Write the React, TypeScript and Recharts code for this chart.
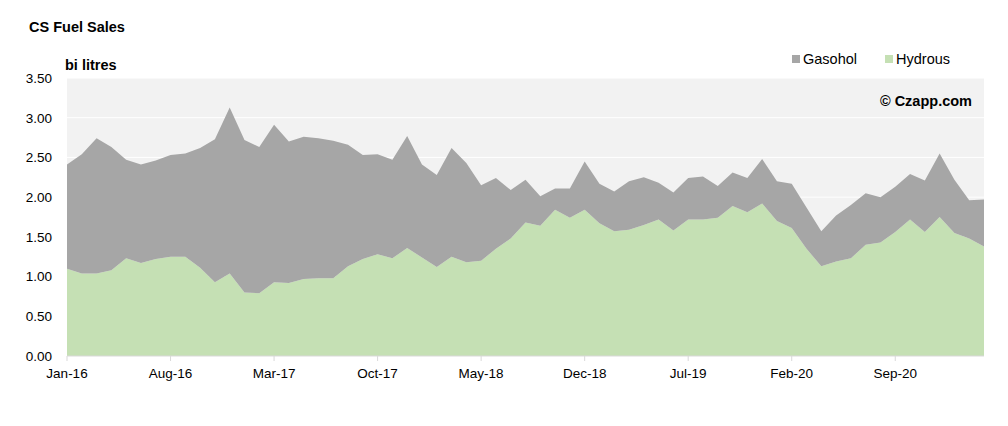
import React from "react";
import { AreaChart, Area, XAxis, YAxis, CartesianGrid } from "recharts";

const months: string[] = [
  "Jan-16","Feb-16","Mar-16","Apr-16","May-16","Jun-16","Jul-16","Aug-16","Sep-16","Oct-16","Nov-16","Dec-16",
  "Jan-17","Feb-17","Mar-17","Apr-17","May-17","Jun-17","Jul-17","Aug-17","Sep-17","Oct-17","Nov-17","Dec-17",
  "Jan-18","Feb-18","Mar-18","Apr-18","May-18","Jun-18","Jul-18","Aug-18","Sep-18","Oct-18","Nov-18","Dec-18",
  "Jan-19","Feb-19","Mar-19","Apr-19","May-19","Jun-19","Jul-19","Aug-19","Sep-19","Oct-19","Nov-19","Dec-19",
  "Jan-20","Feb-20","Mar-20","Apr-20","May-20","Jun-20","Jul-20","Aug-20","Sep-20","Oct-20","Nov-20","Dec-20",
  "Jan-21","Feb-21","Mar-21",
];

const hydrous: number[] = [
  1.10, 1.04, 1.04, 1.08, 1.23, 1.17, 1.22, 1.25, 1.25, 1.11, 0.93, 1.04,
  0.80, 0.79, 0.93, 0.92, 0.97, 0.98, 0.98, 1.13, 1.22, 1.28, 1.23, 1.36,
  1.24, 1.12, 1.25, 1.18, 1.20, 1.35, 1.48, 1.68, 1.64, 1.84, 1.74, 1.84,
  1.67, 1.57, 1.59, 1.65, 1.72, 1.58, 1.72, 1.72, 1.74, 1.89, 1.81, 1.92,
  1.70, 1.61, 1.35, 1.13, 1.19, 1.23, 1.40, 1.43, 1.56, 1.72, 1.56, 1.75,
  1.55, 1.48, 1.38,
];

const gasohol: number[] = [
  1.31, 1.50, 1.70, 1.55, 1.24, 1.24, 1.24, 1.28, 1.30, 1.51, 1.80, 2.09,
  1.92, 1.84, 1.98, 1.78, 1.79, 1.76, 1.73, 1.53, 1.31, 1.26, 1.24, 1.41,
  1.17, 1.16, 1.37, 1.25, 0.95, 0.89, 0.61, 0.54, 0.37, 0.27, 0.37, 0.61,
  0.50, 0.50, 0.61, 0.60, 0.46, 0.48, 0.52, 0.54, 0.40, 0.42, 0.43, 0.56,
  0.50, 0.56, 0.52, 0.44, 0.58, 0.67, 0.65, 0.57, 0.57, 0.57, 0.65, 0.80,
  0.67, 0.48, 0.59,
];

const xTicks: string[] = ["Jan-16", "Aug-16", "Mar-17", "Oct-17", "May-18", "Dec-18", "Jul-19", "Feb-20", "Sep-20"];
const yTicks: number[] = [0, 0.5, 1, 1.5, 2, 2.5, 3, 3.5];

const data = months.map((m, i) => ({ m, Hydrous: hydrous[i], Gasohol: gasohol[i] }));

const FONT = "'Liberation Sans', Arial, sans-serif";

export default function App() {
  return (
    <div style={{ position: "absolute", left: 0, top: 0, width: 1008, height: 426, background: "#fff", fontFamily: FONT }}>
      <AreaChart width={1008} height={426} data={data} margin={{ top: 78, right: 24, bottom: 40, left: 7 }}>
        <CartesianGrid vertical={false} stroke="#ffffff" fill="#f2f2f2" fillOpacity={1} />
        <XAxis
          dataKey="m"
          ticks={xTicks}
          interval={0}
          height={30}
          tickSize={5}
          tickMargin={7}
          axisLine={{ stroke: "#d9d9d9" }}
          tickLine={{ stroke: "#d9d9d9" }}
          tick={{ fill: "#000", fontSize: 13.5, fontFamily: FONT }}
        />
        <YAxis
          width={60}
          domain={[0, 3.5]}
          ticks={yTicks}
          tickFormatter={(v: number) => v.toFixed(2)}
          axisLine={false}
          tickLine={false}
          tickSize={0}
          tickMargin={15}
          tick={{ fill: "#000", fontSize: 13.5, fontFamily: FONT }}
        />
        <Area type="linear" dataKey="Hydrous" stackId="1" stroke="none" fill="#c5e0b4" fillOpacity={1} isAnimationActive={false} />
        <Area type="linear" dataKey="Gasohol" stackId="1" stroke="none" fill="#a6a6a6" fillOpacity={1} isAnimationActive={false} />
      </AreaChart>
      <div style={{ position: "absolute", left: 29, top: 19, fontSize: 14.5, fontWeight: "bold", color: "#000", whiteSpace: "nowrap" }}>CS Fuel Sales</div>
      <div style={{ position: "absolute", left: 65, top: 57, fontSize: 14.5, fontWeight: "bold", color: "#000", whiteSpace: "nowrap" }}>bi litres</div>
      <div style={{ position: "absolute", left: 792, top: 51, fontSize: 14.5, color: "#000", whiteSpace: "nowrap", display: "flex", alignItems: "center" }}>
        <span style={{ display: "inline-block", width: 8, height: 8, background: "#a6a6a6", marginRight: 3 }} />
        <span>Gasohol</span>
        <span style={{ display: "inline-block", width: 8, height: 8, background: "#c5e0b4", marginLeft: 28, marginRight: 3 }} />
        <span>Hydrous</span>
      </div>
      <div style={{ position: "absolute", right: 36, top: 93, fontSize: 14.5, fontWeight: "bold", color: "#000", whiteSpace: "nowrap" }}>© Czapp.com</div>
    </div>
  );
}
